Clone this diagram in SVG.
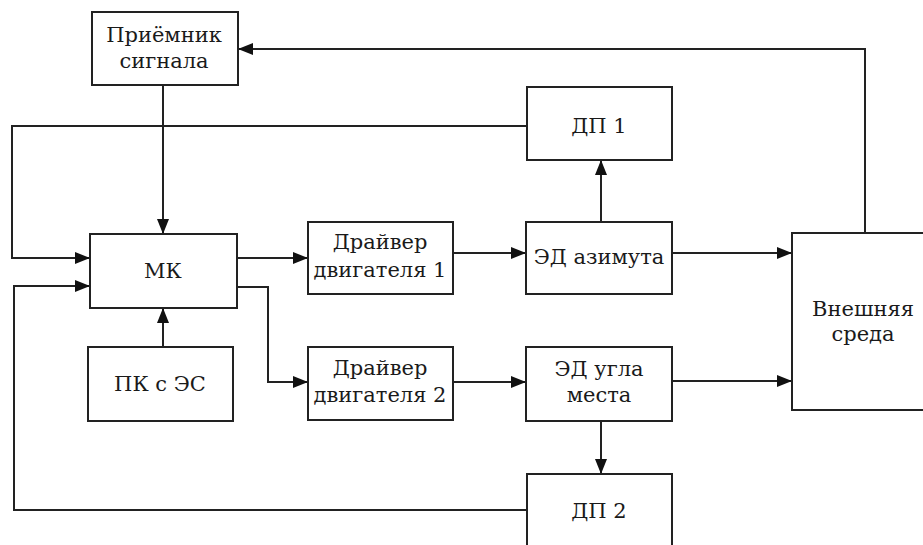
<svg xmlns="http://www.w3.org/2000/svg" width="923" height="545" viewBox="0 0 923 545">
  <style>
    .box { fill: #ffffff; stroke: #222222; stroke-width: 2; }
    .lbl { font-family: 'DejaVu Serif', 'Liberation Serif', serif; font-size: 21px; fill: #1a1a1a; text-anchor: middle; }
    .wire { fill: none; stroke: #222222; stroke-width: 2; }
    .arr { marker-end: url(#head); }
  </style>
  <defs>
    <marker id="head" viewBox="0 0 15 12" refX="15" refY="6" markerWidth="15" markerHeight="12" markerUnits="userSpaceOnUse" orient="auto">
      <path d="M0,0 L15,6 L0,12 Z" fill="#111111"/>
    </marker>
  </defs>
  <rect width="923" height="545" fill="#ffffff"/>

  <!-- connectors -->
  <g id="connectors">
    <!-- outer environment back to signal receiver -->
    <path class="wire arr" d="M865,233 V49 H238"/>
    <!-- receiver to MK -->
    <path class="wire arr" d="M163,85 V234"/>
    <!-- position sensor 1 feedback -->
    <path class="wire arr" d="M527,126 H12 V258 H90"/>
    <!-- position sensor 2 feedback -->
    <path class="wire arr" d="M527,510 H14 V286 H90"/>
    <!-- PC to MK -->
    <path class="wire arr" d="M163,347 V308"/>
    <!-- MK to drivers -->
    <path class="wire arr" d="M237,258 H308"/>
    <path class="wire arr" d="M237,287 H268 V382 H308"/>
    <!-- drivers to motors -->
    <path class="wire arr" d="M453,253 H526"/>
    <path class="wire arr" d="M453,382 H526"/>
    <!-- motors to sensors -->
    <path class="wire arr" d="M601,222 V160"/>
    <path class="wire arr" d="M601,421 V474"/>
    <!-- motors to environment -->
    <path class="wire arr" d="M672,253 H792"/>
    <path class="wire arr" d="M672,381 H792"/>
  </g>

  <g id="receiver">
    <rect class="box" x="92" y="12" width="146" height="73"/>
    <text class="lbl" x="164" y="42">Приёмник</text>
    <text class="lbl" x="164" y="68">сигнала</text>
  </g>
  <g id="mk">
    <rect class="box" x="90" y="234" width="147" height="74"/>
    <text class="lbl" x="163" y="278">МК</text>
  </g>
  <g id="pc">
    <rect class="box" x="88" y="347" width="145" height="74"/>
    <text class="lbl" x="160" y="391">ПК с ЭС</text>
  </g>
  <g id="driver1">
    <rect class="box" x="308" y="222" width="145" height="72"/>
    <text class="lbl" x="380" y="249">Драйвер</text>
    <text class="lbl" x="380" y="277">двигателя 1</text>
  </g>
  <g id="driver2">
    <rect class="box" x="308" y="347" width="145" height="73"/>
    <text class="lbl" x="380" y="375">Драйвер</text>
    <text class="lbl" x="380" y="402">двигателя 2</text>
  </g>
  <g id="motor-azimuth">
    <rect class="box" x="526" y="222" width="146" height="72"/>
    <text class="lbl" x="599" y="264">ЭД азимута</text>
  </g>
  <g id="motor-elevation">
    <rect class="box" x="526" y="347" width="146" height="74"/>
    <text class="lbl" x="599" y="376">ЭД угла</text>
    <text class="lbl" x="599" y="402">места</text>
  </g>
  <g id="sensor1">
    <rect class="box" x="527" y="87" width="145" height="73"/>
    <text class="lbl" x="599" y="133">ДП 1</text>
  </g>
  <g id="sensor2">
    <rect class="box" x="527" y="474" width="145" height="80"/>
    <text class="lbl" x="599" y="518">ДП 2</text>
  </g>
  <g id="environment">
    <rect class="box" x="792" y="233" width="150" height="177"/>
    <text class="lbl" x="863" y="316">Внешняя</text>
    <text class="lbl" x="863" y="341">среда</text>
  </g>
</svg>
